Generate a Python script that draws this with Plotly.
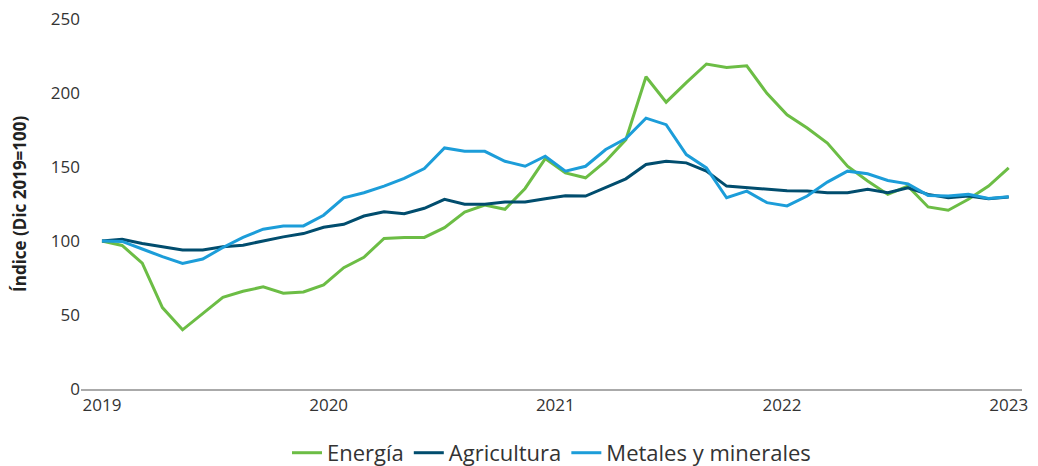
import plotly.graph_objects as go

# Monthly index values (Dic 2019 = 100), 46 observations
months = list(range(46))

energia = [100, 97, 85, 55, 40, 51, 62, 66, 69, 64.7, 65.6, 70.4,
           82, 89, 101.7, 102.4, 102.4, 109, 119.6, 124.3, 121.4, 135.5,
           155.7, 146, 142.7, 153.9, 168.5, 211, 193.8, 207, 219.6, 217.3,
           218.4, 199.8, 185.3, 176.3, 166.2, 150.5, 140.5, 131.5, 137.1, 123,
           120.8, 128.2, 137.1, 149.4]

agricultura = [100, 101.1, 98.3, 96.1, 93.9, 93.9, 96.1, 97.2, 100.1, 102.8, 105, 109.3,
               111.3, 116.9, 119.8, 118.5, 122.1, 128.1, 124.8, 124.8, 126.3, 126.3,
               128.6, 130.5, 130.4, 136.4, 142, 151.7, 153.9, 152.8, 147.2, 137.1,
               136, 134.9, 133.9, 133.7, 132.6, 132.6, 134.9, 132.6, 136, 131.5,
               129.2, 130.4, 128.6, 129.7]

metales = [100, 99.7, 94.6, 89.4, 84.9, 87.8, 95.6, 102.4, 108, 110.2, 110.2, 117.4,
           129.2, 132.6, 137.1, 142.3, 149, 162.9, 160.6, 160.6, 153.9, 150.5,
           157.3, 147.2, 150.5, 161.8, 169.2, 183, 178.6, 158.4, 149.4, 129.2,
           133.7, 125.9, 123.7, 130.4, 139.8, 147.2, 145.4, 140.9, 138.6, 130.8,
           130.4, 131.5, 128.8, 129.9]

year_labels = ["2019", "2020", "2021", "2022", "2023"]
year_ticks = [0, 11.25, 22.5, 33.75, 45]
y_ticks = [0, 50, 100, 150, 200, 250]

series = [
    ("Energía", energia, "#6cbd45"),
    ("Agricultura", agricultura, "#014d6e"),
    ("Metales y minerales", metales, "#1c9dd9"),
]

fig = go.Figure()
for name, vals, color in series:
    fig.add_trace(go.Scatter(
        x=months, y=vals, mode="lines", name=name,
        line=dict(color=color, width=3),
    ))

font_family = "Open Sans, Noto Sans, sans-serif"

fig.update_layout(
    width=1030, height=458,
    margin=dict(l=73, r=16, t=11, b=77, autoexpand=False),
    paper_bgcolor="white", plot_bgcolor="white",
    font=dict(family=font_family, color="#333333", size=17),
    showlegend=True,
    legend=dict(
        orientation="h", x=0.5, xanchor="center", y=-0.116, yanchor="top",
        font=dict(size=22, color="#333333"), itemwidth=30,
        traceorder="normal",
    ),
    xaxis=dict(
        range=[-1.04, 45.66], automargin=False,
        tickmode="array", tickvals=year_ticks, ticktext=year_labels,
        showgrid=False, zeroline=False,
        showline=True, linecolor="#aaaaaa", linewidth=1.5,
        ticks="", tickfont=dict(size=17, color="#333333"),
        ticklabeloverflow="allow",
    ),
    yaxis=dict(
        range=[0, 250], automargin=False,
        tickmode="array", tickvals=y_ticks,
        showgrid=False, zeroline=False, showline=False,
        ticks="", tickfont=dict(size=17, color="#333333"),
        ticklabeloverflow="allow",
    ),
    annotations=[dict(
        text="<b>Índice (Dic 2019=100)</b>", xref="paper", yref="paper",
        x=-0.066, y=0.5, xanchor="center", yanchor="middle", textangle=-90,
        showarrow=False, font=dict(size=17, color="#222222"),
    )],
)

fig.write_html("out.html")
